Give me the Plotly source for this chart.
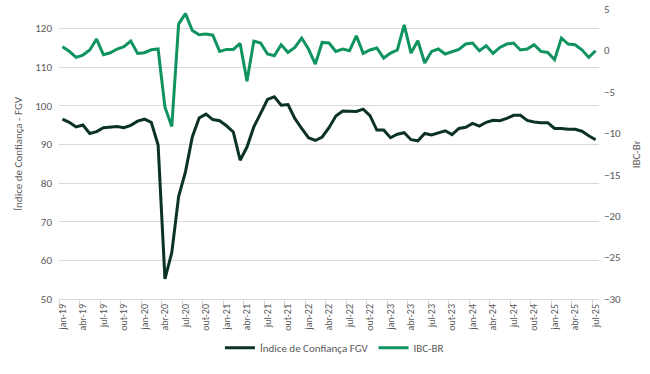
import plotly.graph_objects as go

months = ["jan", "fev", "mar", "abr", "mai", "jun", "jul", "ago", "set", "out", "nov", "dez"]
years = ["19", "20", "21", "22", "23", "24", "25"]
categories = [f"{m}-{y}" for y in years for m in months][:79]

fgv = [
    96.5, 95.7, 94.5, 95.0, 92.8, 93.3, 94.3, 94.4, 94.6, 94.3, 94.9, 96.0,
    96.5, 95.7, 89.8, 55.2, 62.0, 76.5, 82.9, 91.9, 96.8, 97.8, 96.4, 96.1,
    94.8, 93.2, 85.9, 89.3, 94.5, 98.0, 101.6, 102.3, 100.1, 100.3, 96.7, 94.1,
    91.7, 91.0, 91.9, 94.3, 97.3, 98.6, 98.5, 98.5, 99.1, 97.4, 93.7, 93.7,
    91.7, 92.6, 93.0, 91.2, 90.9, 92.8, 92.4, 93.0, 93.5, 92.5, 94.1, 94.4,
    95.4, 94.7, 95.7, 96.2, 96.1, 96.7, 97.5, 97.5, 96.2, 95.8, 95.6, 95.6,
    94.1, 94.1, 93.9, 93.9, 93.4, 92.2, 91.2,
]

ibc = [
    0.45, -0.10, -0.84, -0.56, 0.05, 1.37, -0.52, -0.28, 0.17, 0.45, 1.13, -0.36,
    -0.28, 0.08, 0.17, -6.86, -9.18, 3.18, 4.45, 2.40, 1.89, 1.97, 1.84, -0.12,
    0.12, 0.12, 0.84, -3.73, 1.13, 0.89, -0.43, -0.64, 0.69, -0.24, 0.36, 1.49,
    0.17, -1.64, 0.96, 0.89, -0.12, 0.17, -0.04, 1.77, -0.36, 0.05, 0.29, -0.92,
    -0.32, 0.05, 3.09, -0.32, 1.17, -1.52, -0.12, 0.17, -0.43, -0.12, 0.12, 0.77,
    0.89, -0.04, 0.57, -0.36, 0.36, 0.77, 0.89, 0.05, 0.17, 0.69, -0.12, -0.24,
    -1.12, 1.49, 0.77, 0.69, 0.08, -0.84, -0.04,
]

left_ticks = [50, 60, 70, 80, 90, 100, 110, 120]
right_ticks = [-30, -25, -20, -15, -10, -5, 0, 5]

x_idx = list(range(len(categories)))
tick_idx = x_idx[::3]
tick_text = [categories[i] for i in tick_idx]

FONT = "Calibri, Carlito, Lato, sans-serif"
DARK = "#0b3323"
GREEN = "#0f935f"
GRAY = "#595959"

fig = go.Figure()
fig.add_trace(go.Scatter(x=x_idx, y=fgv, name="Índice de Confiança FGV", mode="lines",
                         line=dict(color=DARK, width=3)))
fig.add_trace(go.Scatter(x=x_idx, y=ibc, name="IBC-BR", mode="lines", yaxis="y2",
                         line=dict(color=GREEN, width=3)))

fig.update_layout(
    width=650, height=374,
    margin=dict(l=59, r=51, t=9, b=75),
    paper_bgcolor="white", plot_bgcolor="white",
    font=dict(family=FONT, color=GRAY, size=11),
    showlegend=True,
    legend=dict(orientation="h", x=0.51, xanchor="center", y=-0.168, yanchor="middle",
                font=dict(size=11, color=GRAY), itemwidth=30, bgcolor="rgba(0,0,0,0)"),
    xaxis=dict(
        range=[-0.5, len(categories) - 0.5],
        tickmode="array", tickvals=tick_idx, ticktext=tick_text,
        tickangle=-90, ticks="", tickfont=dict(size=10, color=GRAY),
        showgrid=False, showline=True, linecolor="#d9d9d9", linewidth=1,
        zeroline=False, automargin=False,
        minor=dict(tick0=-0.5, dtick=3, ticks="outside", ticklen=5,
                   tickcolor="#d9d9d9", tickwidth=1, showgrid=False),
    ),
    yaxis=dict(
        range=[50, 125], tickmode="array", tickvals=left_ticks,
        showgrid=True, gridcolor="#d9d9d9", gridwidth=1,
        zeroline=False, showline=False, ticks="",
        tickfont=dict(size=11, color=GRAY), ticklabelstandoff=6,
        automargin=False,
    ),
    yaxis2=dict(
        range=[-30, 5], tickmode="array", tickvals=right_ticks,
        overlaying="y", side="right", showgrid=False, zeroline=False,
        showline=False, ticks="", tickfont=dict(size=11, color=GRAY),
        ticklabelstandoff=4, automargin=False,
    ),
    annotations=[
        dict(text="Índice de Confiança - FGV", xref="paper", yref="paper",
             x=-0.0765, y=0.5, xanchor="center", yanchor="middle", textangle=-90,
             showarrow=False, font=dict(size=11, color=GRAY)),
        dict(text="IBC-Br", xref="paper", yref="paper",
             x=1.069, y=0.5, xanchor="center", yanchor="middle", textangle=-90,
             showarrow=False, font=dict(size=11, color=GRAY)),
    ],
)

fig.write_html("out.html", config={"displayModeBar": False},
               post_script="document.body.style.margin='0';document.body.style.overflow='hidden';")
